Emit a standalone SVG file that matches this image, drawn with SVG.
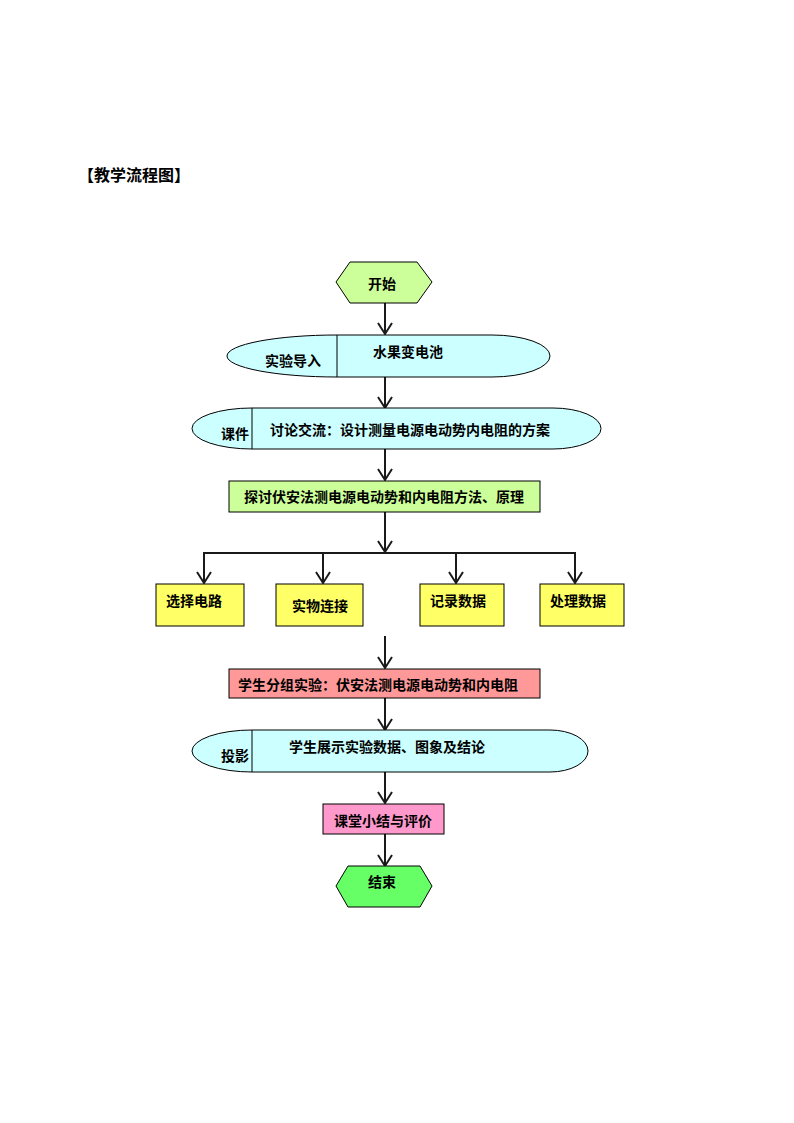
<svg xmlns="http://www.w3.org/2000/svg" width="794" height="1123" viewBox="0 0 794 1123">
<defs>
<marker id="arr" markerWidth="14" markerHeight="16" refX="12" refY="8" orient="auto" markerUnits="userSpaceOnUse" viewBox="0 0 14 16">
<path d="M1,1 L12,8 L1,15" fill="none" stroke="#1a1a1a" stroke-width="2"/>
</marker>
</defs>
<style>
text{font-family:"Noto Sans CJK SC","Noto Sans CJK JP",sans-serif;font-weight:bold;font-size:14px;fill:#000;dominant-baseline:central}
.c{text-anchor:middle}
.s{stroke:#000;stroke-width:1}
.ln{stroke:#1a1a1a;stroke-width:2;fill:none}
.a{marker-end:url(#arr)}
</style>
<rect width="794" height="1123" fill="#fff"/>
<text x="78" y="174" style="font-size:16px">【教学流程图】</text>

<g id="connectors">
<line class="ln a" x1="385" y1="303" x2="385" y2="334"/>
<line class="ln a" x1="385" y1="377" x2="385" y2="408"/>
<line class="ln a" x1="385" y1="449" x2="385" y2="480"/>
<line class="ln a" x1="385" y1="512" x2="385" y2="552"/>
<polyline class="ln" points="204,583 204,553 575,553 575,583"/>
<line class="ln a" x1="204" y1="553" x2="204" y2="583"/>
<line class="ln a" x1="323" y1="553" x2="323" y2="583"/>
<line class="ln a" x1="456" y1="553" x2="456" y2="583"/>
<line class="ln a" x1="575" y1="553" x2="575" y2="583"/>
<line class="ln a" x1="385" y1="636" x2="385" y2="668"/>
<line class="ln a" x1="385" y1="698" x2="385" y2="730"/>
<line class="ln a" x1="385" y1="772" x2="385" y2="803"/>
<line class="ln a" x1="385" y1="834" x2="385" y2="866"/>
</g>

<g id="start">
<polygon class="s" fill="#ccff99" points="336,282 350,262 417,262 432,282 417,303 350,303"/>
<text class="c" x="382" y="283">开始</text>
</g>

<g id="intro">
<path class="s" fill="#ccffff" d="M337,335 L492,335 A58,21 0 0 1 492,377 L337,377 A110,21 0 0 1 337,335 Z"/>
<line class="s" x1="337" y1="335" x2="337" y2="377"/>
<text x="265" y="360">实验导入</text>
<text x="373" y="351">水果变电池</text>
</g>

<g id="discuss">
<path class="s" fill="#ccffff" d="M252,408 L553,408 A48,20.5 0 0 1 553,449 L252,449 A60,20.5 0 0 1 252,408 Z"/>
<line class="s" x1="252" y1="408" x2="252" y2="449"/>
<text x="221" y="433">课件</text>
<text x="270" y="429">讨论交流：设计测量电源电动势内电阻的方案</text>
</g>

<g id="explore">
<rect class="s" fill="#ccff99" x="229" y="481" width="311" height="31"/>
<text class="c" x="384" y="496">探讨伏安法测电源电动势和内电阻方法、原理</text>
</g>

<g id="b1">
<rect class="s" fill="#ffff66" x="156" y="584" width="88" height="42"/>
<text x="166" y="600">选择电路</text>
</g>
<g id="b2">
<rect class="s" fill="#ffff66" x="276" y="584" width="87" height="42"/>
<text x="292" y="605">实物连接</text>
</g>
<g id="b3">
<rect class="s" fill="#ffff66" x="420" y="584" width="84" height="42"/>
<text x="430" y="600">记录数据</text>
</g>
<g id="b4">
<rect class="s" fill="#ffff66" x="540" y="584" width="84" height="42"/>
<text x="550" y="600">处理数据</text>
</g>

<g id="experiment">
<rect class="s" fill="#ff9999" x="229" y="669" width="311" height="29"/>
<text x="238" y="684">学生分组实验：伏安法测电源电动势和内电阻</text>
</g>

<g id="show">
<path class="s" fill="#ccffff" d="M252,730 L550,730 A38,21 0 0 1 550,772 L252,772 A60,21 0 0 1 252,730 Z"/>
<line class="s" x1="252" y1="730" x2="252" y2="772"/>
<text x="221" y="755">投影</text>
<text x="289" y="746">学生展示实验数据、图象及结论</text>
</g>

<g id="summary">
<rect class="s" fill="#ff99cc" x="323" y="804" width="121" height="30"/>
<text class="c" x="383" y="820">课堂小结与评价</text>
</g>

<g id="end">
<polygon class="s" fill="#66ff66" points="336,886 348,866 420,866 432,886 420,907 348,907"/>
<text class="c" x="382" y="881">结束</text>
</g>
</svg>
